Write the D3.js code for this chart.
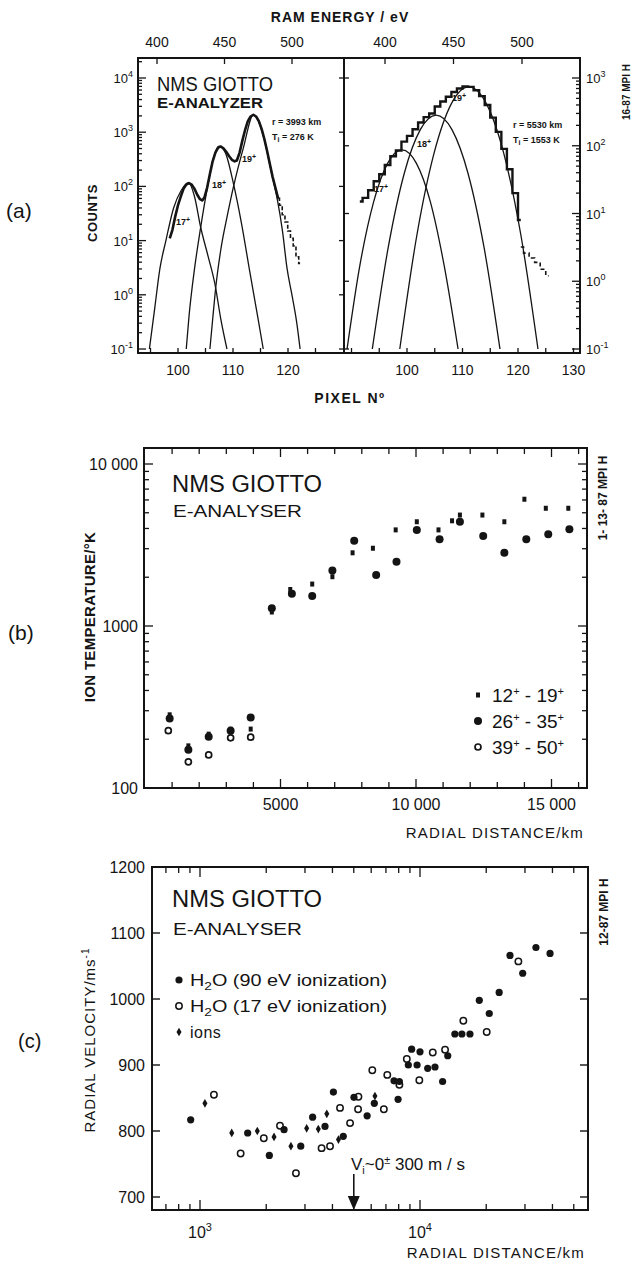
<!DOCTYPE html>
<html><head><meta charset="utf-8">
<script src="https://cdn.jsdelivr.net/npm/d3@7"></script>
<style>body{margin:0;background:#fff}</style>
</head><body>
<script>
// ================= DATA =================
// ---- Panel (a): energy spectra, pixel number vs counts ----
const aEnergyTicks = [400, 450, 500];
const aPixelTicksLeft = [100, 110, 120];
const aPixelTicksRight = [100, 110, 120, 130];
const aLeftExp = [-1, 0, 1, 2, 3, 4];
const aRightExp = [-1, 0, 1, 2, 3];
// left spectrum (r = 3993 km) fitted peaks [pixel, counts]
const aL17 = [[94.8,0.1],[95.8,0.6],[96.7,3],[97.8,10],[99.2,40],[100.6,85],[101.9,117],[103.0,65],[104.1,18],[105.5,5],[106.7,1.6],[107.8,0.35],[108.9,0.1]];
const aL18 = [[101.5,0.1],[102.0,0.4],[103.0,3],[104.1,17],[105.3,90],[106.4,320],[107.45,550],[108.6,420],[110.1,110],[111.5,22],[113.1,2.5],[114.6,0.34],[115.5,0.1]];
const aL19 = [[105.8,0.1],[106.3,0.35],[106.8,1.2],[107.8,7],[109.0,30],[110.1,100],[111.9,520],[113.7,2100],[115.6,800],[117.0,180],[118.0,62],[119.0,15],[119.8,3.2],[120.8,0.9],[121.6,0.3],[122.2,0.1]];
// left measured counts
const aLMeas = [[98.5,11],[99.0,16],[99.5,28],[100.0,45],[100.5,65],[101.0,90],[101.5,108],[102.0,115],[102.5,108],[103.0,90],[103.5,70],[104.0,58],[104.4,55],[104.8,62],[105.3,95],[105.8,170],[106.3,290],[106.8,420],[107.3,520],[107.8,545],[108.3,500],[108.8,430],[109.3,360],[109.8,310],[110.3,290],[110.7,300],[111.2,420],[111.7,700],[112.2,1100],[112.7,1600],[113.2,1950],[113.7,2100],[114.2,1950],[114.7,1600],[115.2,1150],[115.7,750],[116.2,450],[116.7,260],[117.2,150],[117.7,95],[118.2,60]];
const aLTail = [[118.2,60],[118.7,45],[119.2,30],[119.7,22],[120.2,15],[120.7,11],[121.2,8],[121.7,5],[122.2,3.8]];
// right spectrum (r = 5530 km) fitted peaks
const aR17 = [[89.2,0.1],[91.5,1.7],[94,15],[96.5,55],[99.1,87],[101.7,55],[104.2,15],[106.7,1.7],[109.2,0.1]];
const aR18 = [[93.75,0.1],[96.6,3.1],[99.5,39],[102.4,173],[105.25,283],[108.1,173],[111,39],[113.9,3.1],[116.75,0.1]];
const aR19 = [[98.7,0.1],[101.8,4.9],[104.9,79],[108,419],[111.15,740],[114.3,419],[117.4,79],[120.5,4.9],[123.6,0.1]];
const aRMeas = [[91.5,15],[92.5,17],[93.5,22],[94.5,30],[95.5,38],[96.5,52],[97.5,70],[98.5,85],[99.5,115],[100.5,140],[101.5,175],[102.5,220],[103.5,265],[104.5,300],[105.5,380],[106.5,450],[107.5,530],[108.5,620],[109.5,700],[110.5,750],[111.5,740],[112.5,660],[113.5,540],[114.5,400],[115.5,260],[116.5,160],[117.5,90],[118.5,45],[119.5,20],[120.5,8]];
const aRTail = [[120.5,3.2],[121.5,2.6],[122.5,2.2],[123.5,1.9],[124.5,1.5],[125.5,1.2]];

// ---- Panel (b): ion temperature vs radial distance ----
const bXTicks = [5000, 10000, 15000];
const bXTickLabels = ["5000", "10 000", "15 000"];
const bYTicks = [100, 1000, 10000];
const bYTickLabels = ["100", "1000", "10 000"];
const bDist12 = [910,1600,2350,3160,3900,4680,5360,6170,6915,7660,8410,9250,10030,10830,11330,11620,12450,13260,14000,14790,15620];
const bTemp12 = [283,182,215,231,231,1220,1680,1815,2015,2830,3020,3920,4400,3920,4460,4840,4840,4400,6060,5330,5330];
const bDist26 = [910,1600,2350,3160,3900,4680,5420,6170,6915,7720,8530,9280,10030,10870,11620,12480,13260,14070,14880,15660];
const bTemp26 = [269,172,207,226,272,1285,1580,1530,2200,3360,2065,2495,3920,3430,4400,3595,2830,3430,3680,3950];
const bDist39 = [860,1600,2350,3160,3900];
const bTemp39 = [226,145,160,204,206];

// ---- Panel (c): radial velocity vs radial distance ----
const cYTicks = [700, 800, 900, 1000, 1100, 1200];
const cXExp = [3, 4];
const cDist90 = [907,1647,2066,2410,2870,3250,3700,4040,4480,5010,5750,6200,7620,7950,8060,8850,9160,9700,10000,10840,11700,12670,13370,14400,15500,16870,18600,20650,22900,25650,29300,33650,39000];
const cVel90 = [817,797,763,802,777,821,807,859,792,851,823,842,876,848,875,900,924,900,920,895,897,875,914,947,947,947,998,978,1010,1066,1039,1078,1069];
const cDist17 = [1157,1530,1950,2310,2730,3570,3900,4330,4810,5230,5250,6070,6850,7100,8060,8710,9930,11430,13000,15740,20100,28000];
const cVel17 = [855,766,789,808,736,774,777,835,812,833,852,892,833,885,870,909,877,919,923,967,950,1057];
const cDistIon = [1053,1394,1822,2170,2590,3054,3450,3770,4260,6240];
const cVelIon = [842,797,800,791,777,804,803,826,787,853];

// ================= DRAWING =================
const INK = '#141414';
const FONT = '"Liberation Sans", Arial, Helvetica, sans-serif';
const svg = d3.select('body').append('svg').attr('width', 635).attr('height', 1262);
svg.append('rect').attr('width', 635).attr('height', 1262).attr('fill', '#fff');

function T(x, y, parts, o = {}) {
  const size = o.size || 14;
  const t = svg.append('text').attr('x', x).attr('y', y)
    .attr('font-family', FONT).attr('font-size', size)
    .attr('font-weight', o.weight || 'normal')
    .attr('text-anchor', o.anchor || 'start').attr('fill', INK);
  if (o.ls) t.attr('letter-spacing', o.ls);
  if (o.rot) t.attr('transform', `rotate(${o.rot},${x},${y})`);
  if (o.len) t.attr('textLength', o.len).attr('lengthAdjust', 'spacingAndGlyphs');
  let cur = 0;
  (Array.isArray(parts) ? parts : [parts]).forEach(p => {
    const q = typeof p === 'string' ? { t: p, s: 0 } : p;
    const sp = t.append('tspan').text(q.t);
    if (q.s !== cur) { sp.attr('dy', q.s - cur); cur = q.s; }
    if (q.size) sp.attr('font-size', q.size);
  });
  return t;
}
function L(x1, y1, x2, y2, w = 1.4) {
  svg.append('line').attr('x1', x1).attr('y1', y1).attr('x2', x2).attr('y2', y2)
    .attr('stroke', INK).attr('stroke-width', w);
}
function logVals(lo, hi) {
  const out = [];
  for (let e = Math.floor(Math.log10(lo)) - 1; e <= Math.ceil(Math.log10(hi)); e++)
    for (let m = 1; m <= 9; m++) { const v = m * Math.pow(10, e); if (v >= lo * 0.999 && v <= hi * 1.001) out.push(v); }
  return out;
}

// ---------- PANEL (a) ----------
const aF = { l: 138, m: 344, r: 580, t: 58, b: 353 };
const pxL = d3.scaleLinear().domain([100, 120]).range([178, 288]);
const pxR = d3.scaleLinear().domain([100, 130]).range([407, 573.5]);
const yL = d3.scaleLog().domain([0.1, 1e4]).range([349, 78]);
const yR = d3.scaleLog().domain([0.1, 1e3]).range([349, 78]);
const eL = d3.scaleLinear().domain([400, 500]).range([157, 292]);
const eR = d3.scaleLinear().domain([400, 500]).range([385, 522]);

const defs = svg.append('defs');
defs.append('clipPath').attr('id', 'cl').append('rect').attr('x', aF.l).attr('y', aF.t).attr('width', aF.m - aF.l).attr('height', aF.b - aF.t);
defs.append('clipPath').attr('id', 'cr').append('rect').attr('x', aF.m).attr('y', aF.t).attr('width', aF.r - aF.m).attr('height', aF.b - aF.t);

const gL = svg.append('g').attr('clip-path', 'url(#cl)');
const gR = svg.append('g').attr('clip-path', 'url(#cr)');
const fitL = d3.line().x(d => pxL(d[0])).y(d => yL(d[1])).curve(d3.curveMonotoneX);
const fitR = d3.line().x(d => pxR(d[0])).y(d => yR(d[1])).curve(d3.curveMonotoneX);
const linL = d3.line().x(d => pxL(d[0])).y(d => yL(d[1]));
const stepL = d3.line().x(d => pxL(d[0])).y(d => yL(d[1])).curve(d3.curveStep);
const stepR = d3.line().x(d => pxR(d[0])).y(d => yR(d[1])).curve(d3.curveStep);
[aL17, aL18, aL19].forEach(s => gL.append('path').attr('d', fitL(s)).attr('fill', 'none').attr('stroke', INK).attr('stroke-width', 1.3));
[aR17, aR18, aR19].forEach(s => gR.append('path').attr('d', fitR(s)).attr('fill', 'none').attr('stroke', INK).attr('stroke-width', 1.3));
gL.append('path').attr('d', linL(aLMeas)).attr('fill', 'none').attr('stroke', INK).attr('stroke-width', 2.6).attr('stroke-linejoin', 'round');
gL.append('path').attr('d', stepL(aLTail)).attr('fill', 'none').attr('stroke', INK).attr('stroke-width', 1.6).attr('stroke-dasharray', '4,2');
gR.append('path').attr('d', stepR(aRMeas)).attr('fill', 'none').attr('stroke', INK).attr('stroke-width', 2.4);
gR.append('path').attr('d', stepR(aRTail)).attr('fill', 'none').attr('stroke', INK).attr('stroke-width', 1.6).attr('stroke-dasharray', '4,3');

// frame
svg.append('rect').attr('x', aF.l).attr('y', aF.t).attr('width', aF.r - aF.l).attr('height', aF.b - aF.t).attr('fill', 'none').attr('stroke', INK).attr('stroke-width', 2);
L(aF.m, aF.t, aF.m, aF.b, 2);
logVals(0.1, 2.2e4).forEach(v => { const y = yL(v); if (y < aF.t || y > aF.b) return; const maj = Math.abs(Math.log10(v) % 1) < 1e-6; L(aF.l, y, aF.l + (maj ? 8 : 4), y, 1.3); });
logVals(0.1, 1e3).forEach(v => { const y = yR(v); const maj = Math.abs(Math.log10(v) % 1) < 1e-6; L(aF.r, y, aF.r - (maj ? 8 : 4), y, 1.3); });
aLeftExp.forEach(e => L(aF.m - 5, yL(Math.pow(10, e)), aF.m, yL(Math.pow(10, e)), 1.3));
aRightExp.forEach(e => L(aF.m, yR(Math.pow(10, e)), aF.m + 5, yR(Math.pow(10, e)), 1.3));
d3.range(95, 129, 5).forEach(p => L(pxL(p), aF.b, pxL(p), aF.b - 5, 1.3));
d3.range(90, 131, 5).forEach(p => L(pxR(p), aF.b, pxR(p), aF.b - 5, 1.3));
aEnergyTicks.forEach(e => { L(eL(e), aF.t, eL(e), aF.t + 6, 1.3); L(eR(e), aF.t, eR(e), aF.t + 6, 1.3); });
aEnergyTicks.forEach(e => { T(eL(e), 47, String(e), { size: 14, anchor: 'middle' }); T(eR(e), 47, String(e), { size: 14, anchor: 'middle' }); });
T(340, 22, 'RAM ENERGY / eV', { size: 14, anchor: 'middle', weight: 'bold', ls: 1 });
aPixelTicksLeft.forEach(p => T(pxL(p), 375, String(p), { size: 14, anchor: 'middle' }));
aPixelTicksRight.forEach(p => T(pxR(p), 375, String(p), { size: 14, anchor: 'middle' }));
T(350, 403, 'PIXEL Nº', { size: 14, anchor: 'middle', weight: 'bold', ls: 1.5 });
aLeftExp.forEach(e => T(133, yL(Math.pow(10, e)) + 5, ['10', { t: String(e), s: -6, size: 9 }], { size: 13, anchor: 'end' }));
aRightExp.forEach(e => T(586, yR(Math.pow(10, e)) + 5, ['10', { t: String(e), s: -6, size: 9 }], { size: 13 }));
T(97, 213, 'COUNTS', { size: 13, anchor: 'middle', weight: 'bold', rot: -90, ls: 0.5 });
T(6, 218, '(a)', { size: 21 });
T(630, 92, '16-87 MPI H', { size: 10, anchor: 'middle', weight: 'bold', rot: -90 });
T(157, 91, 'NMS GIOTTO', { size: 21, len: 116 });
T(157, 108, 'E-ANALYZER', { size: 14, len: 106, weight: 'bold' });
T(272, 125, 'r = 3993 km', { size: 9, weight: 'bold' });
T(272, 140, ['T', { t: 'i', s: 2, size: 7 }, { t: ' = 276 K', s: 0 }], { size: 9, weight: 'bold' });
T(513, 128, 'r = 5530 km', { size: 9, weight: 'bold' });
T(513, 143, ['T', { t: 'i', s: 2, size: 7 }, { t: ' = 1553 K', s: 0 }], { size: 9, weight: 'bold' });
[[176, 225, '17'], [212, 188, '18'], [242, 162, '19']].forEach(d => T(d[0], d[1], [d[2], { t: '+', s: -3, size: 7 }], { size: 9, weight: 'bold' }));
[[374, 192, '17'], [417, 147, '18'], [452, 101, '19']].forEach(d => T(d[0], d[1], [d[2], { t: '+', s: -3, size: 7 }], { size: 9, weight: 'bold' }));

// ---------- PANEL (b) ----------
const bF = { l: 144, r: 587, t: 448, b: 788 };
const bX = d3.scaleLinear().domain([0, 15000]).range([145, 551.5]);
const bY = d3.scaleLog().domain([100, 10000]).range([788, 464]);
svg.append('rect').attr('x', bF.l).attr('y', bF.t).attr('width', bF.r - bF.l).attr('height', bF.b - bF.t).attr('fill', 'none').attr('stroke', INK).attr('stroke-width', 2);
d3.range(1000, 16500, 1000).forEach(v => { const x = bX(v); if (x >= bF.r - 1) return; const len = v % 5000 === 0 ? 9 : 6; L(x, bF.b, x, bF.b - len, 1.3); L(x, bF.t, x, bF.t + len, 1.3); });
logVals(100, 12500).forEach(v => { const y = bY(v); if (y < bF.t) return; const maj = Math.abs(Math.log10(v) % 1) < 1e-6; L(bF.l, y, bF.l + (maj ? 9 : 5), y, 1.3); L(bF.r, y, bF.r - (maj ? 9 : 5), y, 1.3); });
bYTicks.forEach((v, i) => T(138, bY(v) + 6, bYTickLabels[i], { size: 16, anchor: 'end' }));
bXTicks.forEach((v, i) => T(bX(v), 810, bXTickLabels[i], { size: 16, anchor: 'middle' }));
T(584, 838, 'RADIAL  DISTANCE/km', { size: 15, anchor: 'end', ls: 1.2 });
T(95, 617, 'ION TEMPERATURE/°K', { size: 15, anchor: 'middle', weight: 'bold', rot: -90, ls: 0.3 });
T(8, 640, '(b)', { size: 21 });
T(607, 498, '1- 13- 87  MPI H', { size: 12, anchor: 'middle', weight: 'bold', rot: -90 });
T(172, 492, 'NMS  GIOTTO', { size: 23, len: 150 });
T(173, 517, 'E-ANALYSER', { size: 17, len: 129 });
bDist39.forEach((d, i) => svg.append('circle').attr('cx', bX(d)).attr('cy', bY(bTemp39[i])).attr('r', 3).attr('fill', '#fff').attr('stroke', INK).attr('stroke-width', 1.7));
bDist26.forEach((d, i) => svg.append('circle').attr('cx', bX(d)).attr('cy', bY(bTemp26[i])).attr('r', 4).attr('fill', INK));
bDist12.forEach((d, i) => svg.append('rect').attr('x', bX(d) - 2).attr('y', bY(bTemp12[i]) - 2.5).attr('width', 4).attr('height', 5).attr('fill', INK));
svg.append('rect').attr('x', 476).attr('y', 692.5).attr('width', 4).attr('height', 5).attr('fill', INK);
svg.append('circle').attr('cx', 478).attr('cy', 721).attr('r', 4).attr('fill', INK);
svg.append('circle').attr('cx', 478).attr('cy', 747).attr('r', 3).attr('fill', '#fff').attr('stroke', INK).attr('stroke-width', 1.7);
[['12', '19', 702], ['26', '35', 728], ['39', '50', 754]].forEach(d =>
  T(492, d[2], [d[0], { t: '+', s: -7, size: 11 }, { t: ' - ' + d[1], s: 0 }, { t: '+', s: -7, size: 11 }], { size: 19 }));

// ---------- PANEL (c) ----------
const cF = { l: 152, r: 588, t: 867, b: 1210 };
const cX = d3.scaleLog().domain([1000, 10000]).range([200, 420]);
const cY = d3.scaleLinear().domain([700, 1200]).range([1197, 867]);
svg.append('rect').attr('x', cF.l).attr('y', cF.t).attr('width', cF.r - cF.l).attr('height', cF.b - cF.t).attr('fill', 'none').attr('stroke', INK).attr('stroke-width', 2);
cYTicks.forEach(v => { L(cF.l, cY(v), cF.l + 8, cY(v), 1.4); L(cF.r, cY(v), cF.r - 8, cY(v), 1.4); T(145, cY(v) + 6, String(v), { size: 16, anchor: 'end' }); });
logVals(600, 60000).forEach(v => { const x = cX(v); if (x <= cF.l + 1 || x >= cF.r - 1) return; const maj = Math.abs(Math.log10(v) % 1) < 1e-6; const len = maj ? 10 : 6; L(x, cF.b, x, cF.b - len, 1.3); L(x, cF.t, x, cF.t + len, 1.3); });
cXExp.forEach(e => T(cX(Math.pow(10, e)), 1238, ['10', { t: String(e), s: -7, size: 11 }], { size: 16, anchor: 'middle' }));
T(585, 1258, 'RADIAL  DISTANCE/km', { size: 15, anchor: 'end', ls: 1.2 });
T(95, 1040, ['RADIAL  VELOCITY/ms', { t: '-1', s: -6, size: 10 }], { size: 15, anchor: 'middle', rot: -90, ls: 1 });
T(18, 1048, '(c)', { size: 20 });
T(608, 912, '12-87  MPI H', { size: 12, anchor: 'middle', weight: 'bold', rot: -90 });
T(172, 907, 'NMS  GIOTTO', { size: 23, len: 150 });
T(173, 935, 'E-ANALYSER', { size: 17, len: 129 });
const diamond = d3.symbol().type(d3.symbolDiamond).size(22);
cDist17.forEach((d, i) => svg.append('circle').attr('cx', cX(d)).attr('cy', cY(cVel17[i])).attr('r', 3.2).attr('fill', '#fff').attr('stroke', INK).attr('stroke-width', 1.5));
cDist90.forEach((d, i) => svg.append('circle').attr('cx', cX(d)).attr('cy', cY(cVel90[i])).attr('r', 3.6).attr('fill', INK));
cDistIon.forEach((d, i) => svg.append('path').attr('d', diamond()).attr('transform', `translate(${cX(d)},${cY(cVelIon[i])})`).attr('fill', INK));
svg.append('circle').attr('cx', 179).attr('cy', 980).attr('r', 3.6).attr('fill', INK);
svg.append('circle').attr('cx', 179).attr('cy', 1006).attr('r', 3.2).attr('fill', '#fff').attr('stroke', INK).attr('stroke-width', 1.5);
svg.append('path').attr('d', diamond()).attr('transform', 'translate(179,1032)').attr('fill', INK);
T(190, 986, ['H', { t: '2', s: 4, size: 11 }, { t: 'O  (90 eV ionization)', s: 0 }], { size: 16, len: 197 });
T(190, 1012, ['H', { t: '2', s: 4, size: 11 }, { t: 'O  (17 eV ionization)', s: 0 }], { size: 16, len: 197 });
T(190, 1038, 'ions', { size: 16, ls: 0.5 });
const ax = cX(5000);
L(ax, 1174, ax, 1198, 1.6);
svg.append('path').attr('d', `M${ax - 6},1196 L${ax + 6},1196 L${ax},1210 Z`).attr('fill', INK);
T(351, 1170, ['V', { t: 'i', s: 4, size: 11 }, { t: '~0', s: 0 }, { t: '±', s: -6, size: 11 }, { t: ' 300 m / s', s: 0 }], { size: 17 });
</script>
</body></html>
